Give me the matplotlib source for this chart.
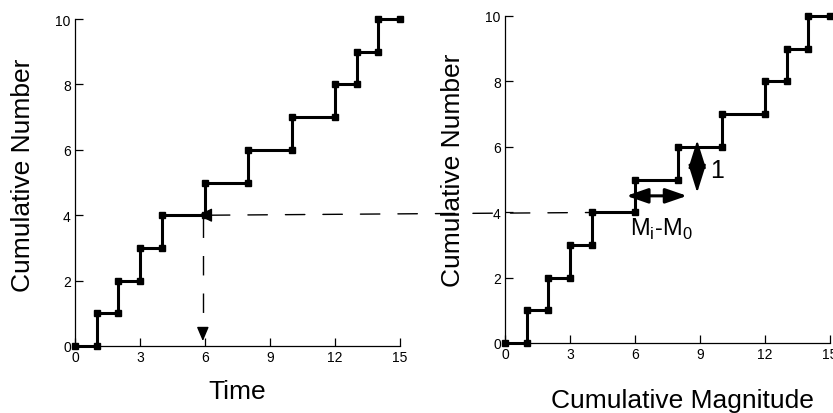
import matplotlib
matplotlib.use("Agg")
import matplotlib.pyplot as plt
from matplotlib.patches import ConnectionPatch

plt.rcParams['font.family'] = ['Liberation Sans', 'DejaVu Sans']
plt.rcParams['mathtext.fontset'] = 'custom'
plt.rcParams['mathtext.rm'] = 'Liberation Sans'

# Data: cumulative step curve (event positions and cumulative counts)
event_x = [0, 1, 2, 3, 4, 6, 8, 10, 12, 13, 14, 15]
cum_n = [0, 1, 2, 3, 4, 5, 6, 7, 8, 9, 10, 10]
x_ticks = [0, 3, 6, 9, 12, 15]
y_ticks = [0, 2, 4, 6, 8, 10]

# build step vertices (horizontal then vertical)
sx, sy = [event_x[0]], [cum_n[0]]
for i in range(1, len(event_x)):
    sx.append(event_x[i]); sy.append(cum_n[i - 1])
    if cum_n[i] != cum_n[i - 1]:
        sx.append(event_x[i]); sy.append(cum_n[i])

W, H = 833, 414
fig = plt.figure(figsize=(W / 100, H / 100), dpi=100)

def px_axes(x0, x1, ytop, ybot):
    return [x0 / W, 1 - ybot / H, (x1 - x0) / W, (ybot - ytop) / H]

ax1 = fig.add_axes(px_axes(75, 400, 20, 347))
ax2 = fig.add_axes(px_axes(505, 830, 17, 344))

for ax in (ax1, ax2):
    ax.plot(sx, sy, color='black', lw=2.2, marker='s', markersize=5,
            clip_on=False, zorder=3)
    ax.set_xlim(0, 15)
    ax.set_ylim(0, 10)
    ax.set_xticks(x_ticks)
    ax.set_yticks(y_ticks)
    ax.tick_params(direction='in', length=6, width=0.9, labelsize=10, pad=3)
    for s in ('top', 'right'):
        ax.spines[s].set_visible(False)
    for s in ('left', 'bottom'):
        ax.spines[s].set_linewidth(0.9)
    ax.patch.set_alpha(0)

# labels
fs = 19
fig.text(23 / W, 1 - 175 / H, 'Cumulative Number', rotation=90, fontsize=fs,
         ha='center', va='center')
fig.text(453 / W, 1 - 170 / H, 'Cumulative Number', rotation=90, fontsize=fs,
         ha='center', va='center')
fig.text(237 / W, 1 - 392 / H, 'Time', fontsize=fs, ha='center', va='center')
fig.text(682 / W, 1 - 401 / H, 'Cumulative Magnitude', fontsize=fs,
         ha='center', va='center')

dash = (14, 13)
# horizontal dashed line across both panels
con = ConnectionPatch(xyA=(6.25, 4.0), coordsA=ax1.transData,
                      xyB=(5.95, 4.0), coordsB=ax2.transData,
                      color='black', lw=1.0, linestyle=(0, dash))
fig.add_artist(con)

# vertical dashed line in left panel
ax1.plot([5.9, 5.9], [3.9, 0.5], color='black', lw=1.0, linestyle=(0, dash))

# arrowheads in left panel
ax1.annotate('', xy=(5.68, 4.0), xytext=(6.25, 4.0),
             arrowprops=dict(arrowstyle='-|>,head_length=0.85,head_width=0.42',
                             color='black', lw=1, shrinkA=0, shrinkB=0,
                             mutation_scale=10))
ax1.annotate('', xy=(5.9, 0.15), xytext=(5.9, 0.55),
             arrowprops=dict(arrowstyle='-|>,head_length=0.85,head_width=0.36',
                             color='black', lw=1, shrinkA=0, shrinkB=0,
                             mutation_scale=10))

# double arrows in right panel
ax2.annotate('', xy=(5.6, 4.5), xytext=(8.4, 4.5),
             arrowprops=dict(arrowstyle='<|-|>,head_length=1.3,head_width=0.45',
                             color='black', lw=2.2, shrinkA=0, shrinkB=0,
                             mutation_scale=10), annotation_clip=False)
ax2.annotate('', xy=(8.87, 6.2), xytext=(8.87, 4.6),
             arrowprops=dict(arrowstyle='<|-|>,head_length=1.75,head_width=0.55',
                             color='black', lw=1.5, shrinkA=0, shrinkB=0,
                             mutation_scale=10), annotation_clip=False)
ax2.text(9.45, 5.3, '1', fontsize=18, ha='left', va='center')
ax2.text(5.75, 3.5, r'M$_\mathregular{i}$-M$_\mathregular{0}$', fontsize=17,
         ha='left', va='center')

fig.savefig('out.png', dpi=100)
